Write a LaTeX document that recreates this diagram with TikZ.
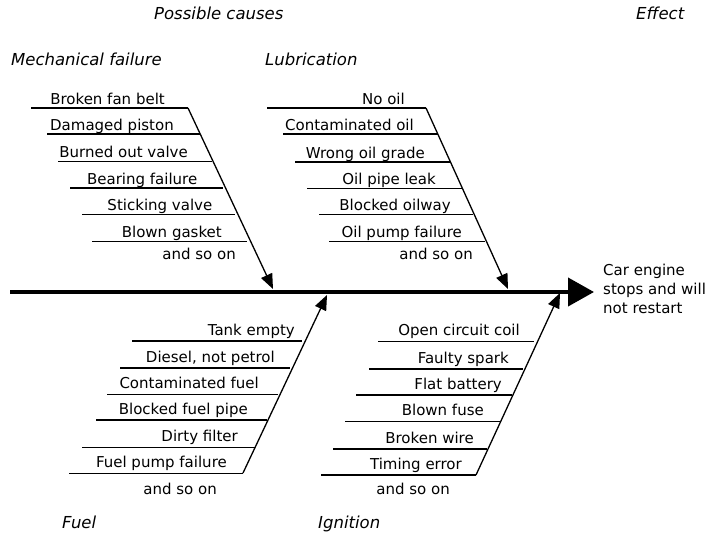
\documentclass[tikz,border=0pt]{standalone}
\usepackage{fontspec}
\setmainfont{DejaVu Sans}
\usetikzlibrary{arrows.meta}
\begin{document}
\begin{tikzpicture}[x=1pt,y=-1pt,
  every node/.style={font=\fontsize{15}{19}\selectfont, inner sep=0pt},
  cause/.style={anchor=base east},
  head/.style={font=\fontsize{16.5}{19}\selectfont\itshape, anchor=base west},
  bone/.style={line width=1.3pt},
  rib/.style={line width=1.3pt, -{Triangle[length=15pt,width=12pt]}},
  spine/.style={line width=4pt, -{Triangle[length=26pt,width=28pt]}}]
\useasboundingbox (0,0) rectangle (709,535);

% headers
\node[head] (hpc) at (154,20) {Possible causes};
\node[head] (hef) at (636,20) {Effect};
\node[head] (hmf) at (11,65.5) {Mechanical failure};
\node[head] (hlu) at (265,65.5) {Lubrication};
\node[head] (hfu) at (62,528.5) {Fuel};
\node[head] (hig) at (318,528.5) {Ignition};

% spine
\coordinate (s0) at (10,292);
\node[anchor=west, align=left, font=\fontsize{15}{19}\selectfont] (eff) at (603,289) {Car engine\\stops and will\\not restart};
\coordinate (s1) at (594,292);
\draw[spine] (s0) -- (s1);

% Mechanical failure
\coordinate (mt) at (188,108);
\coordinate (mh) at (273,289);
\draw[rib] (mt) -- (mh);
\foreach \y/\l/\r/\t/\txt [count=\i] in {
  108/31/188/165/{Broken fan belt},
  134/47/200/174/{Damaged piston},
  161.7/58/212/188/{Burned out valve},
  188/70/223/197.5/{Bearing failure},
  214.3/82/235/212.5/{Sticking valve},
  241.7/92/247/222/{Blown gasket}}{
  \coordinate (ma\i) at (\l,\y);
  \coordinate (mb\i) at (\r,\y);
  \draw[bone] (ma\i) -- (mb\i);
  \node[cause] (mtx\i) at (\t,\y-4) {\txt};
}
\node[cause] (mso) at (236,259) {and so on};

% Lubrication
\coordinate (lt) at (426,108);
\coordinate (lh) at (508,289);
\draw[rib] (lt) -- (lh);
\foreach \y/\l/\r/\t/\txt [count=\i] in {
  108/267/426/405/{No oil},
  134/283/438/414/{Contaminated oil},
  162/295/450/425/{Wrong oil grade},
  188.3/307/462/436/{Oil pipe leak},
  214.3/319/473/451/{Blocked oilway},
  241.7/329/485/462/{Oil pump failure}}{
  \coordinate (la\i) at (\l,\y);
  \coordinate (lb\i) at (\r,\y);
  \draw[bone] (la\i) -- (lb\i);
  \node[cause] (ltx\i) at (\t,\y-4) {\txt};
}
\node[cause] (lso) at (473,259) {and so on};

% Fuel
\coordinate (ft) at (243,473);
\coordinate (fh) at (327,295);
\draw[rib] (ft) -- (fh);
\foreach \y/\l/\r/\t/\txt [count=\i] in {
  341/132/302/295/{Tank empty},
  368/120/290/275/{Diesel, not petrol},
  394.3/107/278/259/{Contaminated fuel},
  420/96/267/248/{Blocked fuel pipe},
  447.7/82/255/238/{Dirty filter},
  473.3/69/243/227/{Fuel pump failure}}{
  \coordinate (fa\i) at (\l,\y);
  \coordinate (fb\i) at (\r,\y);
  \draw[bone] (fa\i) -- (fb\i);
  \node[cause] (ftx\i) at (\t,\y-6) {\txt};
}
\node[cause] (fso) at (217,494.5) {and so on};

% Ignition
\coordinate (it) at (476,475);
\coordinate (ih) at (560,293);
\draw[rib] (it) -- (ih);
\foreach \y/\l/\r/\t/\txt [count=\i] in {
  341.7/378/534/520/{Open circuit coil},
  369/369/523/509/{Faulty spark},
  395/356/512/502/{Flat battery},
  421.7/345/500/484/{Blown fuse},
  449/333/487/474/{Broken wire},
  475/321/476/462/{Timing error}}{
  \coordinate (ia\i) at (\l,\y);
  \coordinate (ib\i) at (\r,\y);
  \draw[bone] (ia\i) -- (ib\i);
  \node[cause] (itx\i) at (\t,\y-6) {\txt};
}
\node[cause] (iso) at (450,494.5) {and so on};
\end{tikzpicture}
\end{document}
